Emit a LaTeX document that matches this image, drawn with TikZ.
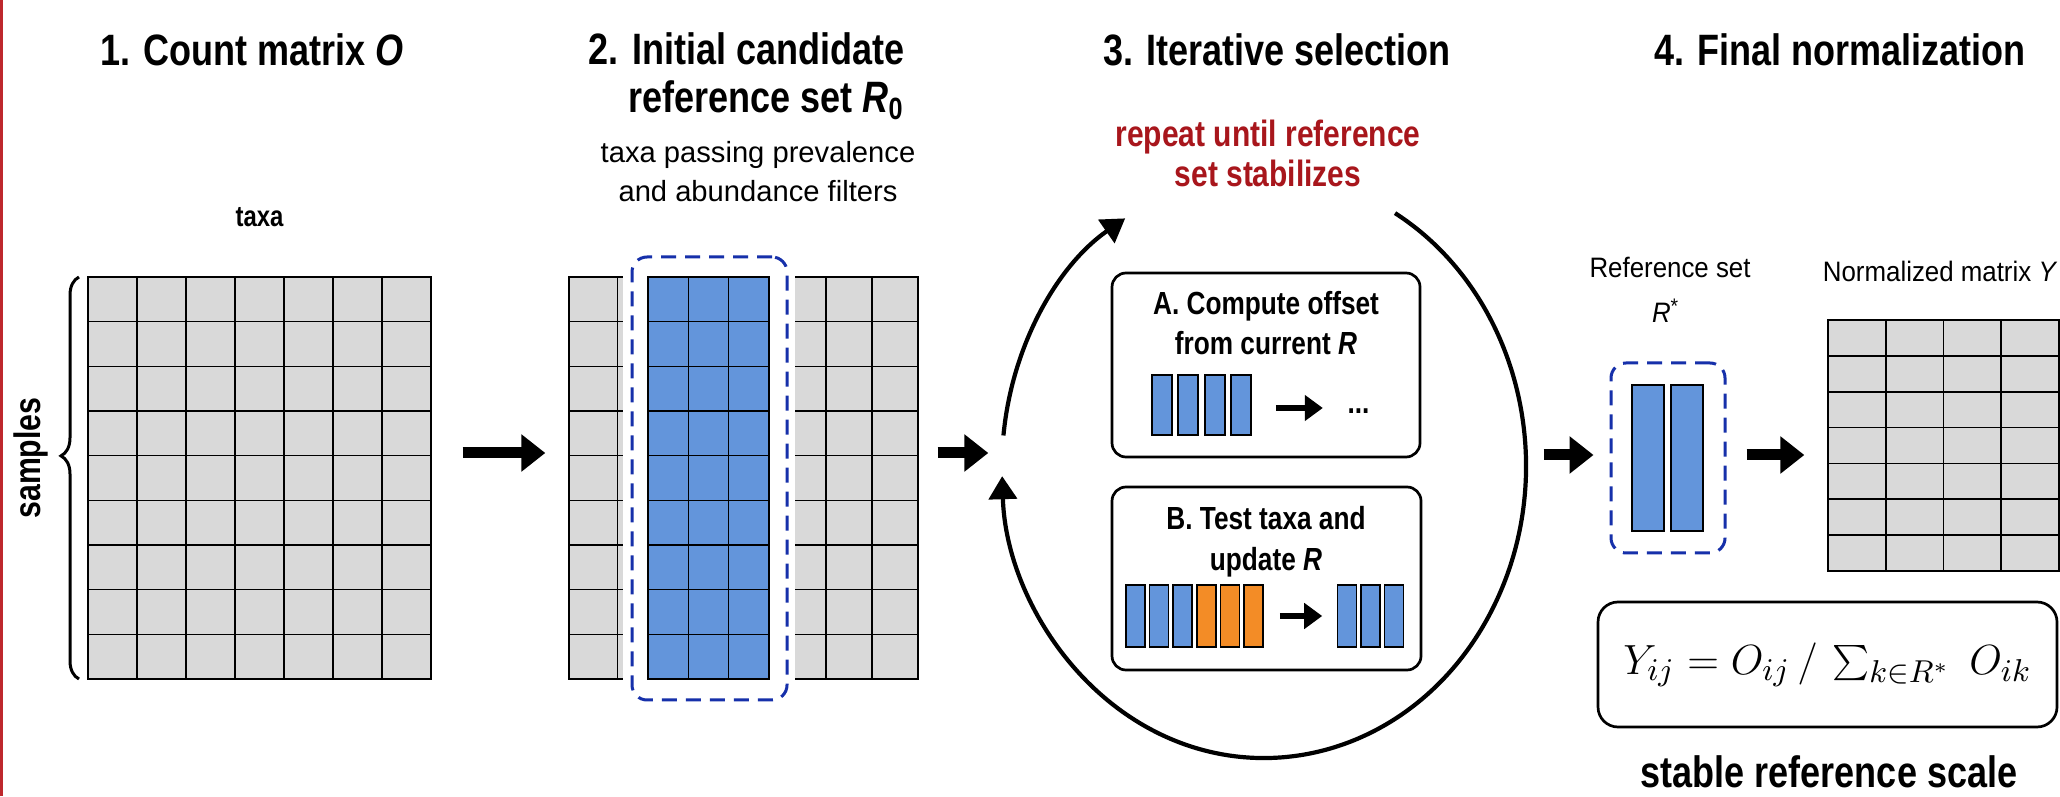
\documentclass[tikz,border=0pt]{standalone}
\usepackage{fontspec}
\setmainfont{Liberation Sans}
\newfontfamily\condfont{Liberation Sans}[FakeStretch=0.82]
\newfontfamily\narrowfont{Liberation Sans}[FakeStretch=0.92]
\usepackage{tikz}
\usetikzlibrary{arrows.meta,calc,positioning,shapes.geometric,decorations.pathreplacing}

\definecolor{cellgrey}{RGB}{217,217,217}
\definecolor{refblue}{RGB}{99,149,219}
\definecolor{droporange}{RGB}{243,140,38}
\definecolor{dashblue}{RGB}{22,48,170}
\definecolor{loopred}{RGB}{168,22,28}
\definecolor{edgered}{RGB}{190,40,45}

\tikzstyle{cell} = [draw, fill=cellgrey, line width=0.16mm]
\tikzstyle{refcell} = [draw, fill=refblue, line width=0.16mm]
\tikzstyle{gridline} = [line width=0.16mm]
\tikzstyle{bar} = [rectangle, draw, line width=0.16mm, inner sep=0pt, minimum width=2mm, minimum height=6mm]
\tikzstyle{stepbox} = [rectangle, draw, line width=0.27mm, rounded corners=1.4mm, inner sep=0pt]
\tikzstyle{refbox} = [rectangle, draw=dashblue, line width=0.3mm, dash pattern=on 1.5mm off 0.9mm, rounded corners=1.5mm, inner sep=0pt]
\tikzstyle{bigarrow} = [line width=1.1mm, -{Triangle[length=2.4mm, width=3.6mm]}]
\tikzstyle{smallarrow} = [line width=0.65mm, -{Triangle[length=1.8mm, width=2.5mm]}]
\tikzstyle{loopline} = [line width=0.42mm, -{Triangle[length=2.3mm, width=2.8mm]}]
\tikzstyle{samplebrace} = [line width=0.3mm, decorate, decoration={brace, amplitude=1.8mm, aspect=0.555}]
\tikzstyle{steptitle} = [font=\condfont\bfseries\fontsize{12.5}{13.7}\selectfont, inner sep=0pt]
\tikzstyle{subnote} = [font=\fontsize{8.3}{11.1}\selectfont, inner sep=0pt]
\tikzstyle{axislabel} = [font=\condfont\bfseries\fontsize{8.3}{10}\selectfont, inner sep=0pt]
\tikzstyle{samplelabel} = [font=\condfont\bfseries\fontsize{10.5}{12}\selectfont, inner sep=0pt]
\tikzstyle{looptext} = [font=\condfont\bfseries\fontsize{10.4}{11.4}\selectfont, text=loopred, inner sep=0pt]
\tikzstyle{boxtext} = [font=\condfont\bfseries\fontsize{9.1}{11.4}\selectfont, inner sep=0pt]
\tikzstyle{setlabel} = [font=\narrowfont\fontsize{8}{10}\selectfont, inner sep=0pt]

\begin{document}
\begin{tikzpicture}[x=0.1mm, y=0.1mm]
    \useasboundingbox (0,0) rectangle (2060,796);
    \fill[white] (0,0) rectangle (2060,796);
    \draw[edgered, line width=0.3mm] (1.5,0) -- (1.5,796);

    % column titles (multi-line nodes sit on the baseline of their last line)
    \node[steptitle, anchor=base] (title1) at (252,730) {1. Count matrix \textit{O}};
    \node[steptitle, anchor=base east, align=right] (title2) at (905,683) {2. Initial candidate\\reference set \textit{R}\textsubscript{0}};
    \node[subnote, anchor=base, align=center] (title2note) at (758,594) {taxa passing prevalence\\and abundance filters};
    \node[steptitle, anchor=base] (title3) at (1277,730) {3. Iterative selection};
    \node[steptitle, anchor=base] (title4) at (1840,730) {4. Final normalization};

    % 1. count matrix
    \node[inner sep=0pt, minimum width=34.3mm, minimum height=40.2mm] (mat1) at (259.5,318) {};
    \foreach \c in {0,...,6}
        \foreach \r in {0,...,8}
            \draw[cell] (88+49*\c,117+44.667*\r) rectangle ++(49,44.667);
    \node[axislabel] (taxa) [above=4.9mm of mat1] {taxa};
    \draw[samplebrace] (79,117) -- (79,519);
    \node[samplelabel, rotate=90] (samples) at (31,338) {samples};

    % 2. candidate set inside the matrix
    \node[inner sep=0pt, minimum width=34.9mm, minimum height=40.2mm] (mat2) at (743.5,318) {};
    \foreach \r in {0,...,8}
        \draw[cell] (569,117+44.667*\r) rectangle ++(49,44.667);
    \fill[cellgrey] (618,117) rectangle (623,519);
    \fill[cellgrey] (795,117) rectangle (826,519);
    \foreach \r in {0,...,9} {
        \draw[gridline] (618,117+44.667*\r) -- ++(5,0);
        \draw[gridline] (795,117+44.667*\r) -- ++(31,0);
    }
    \foreach \c in {0,1}
        \foreach \r in {0,...,8}
            \draw[cell] (826+46*\c,117+44.667*\r) rectangle ++(46,44.667);
    \foreach \c in {0,1,2}
        \foreach \r in {0,...,8}
            \draw[refcell] (648+40.33*\c,117+44.667*\r) rectangle ++(40.33,44.667);
    \node[refbox, minimum width=15.5mm, minimum height=44.3mm] (r0) at (709.5,317.5) {};

    % 3. iteration loop
    \node[ellipse, inner sep=0pt, minimum width=52.4mm, minimum height=58.4mm] (loop) at (1264,330) {};
    \node[looptext, anchor=base, align=center] (repeat) at (1268,609) {repeat until reference\\set stabilizes};
    \draw[loopline] ($(loop.center)+(174:262 and 292)$) arc[start angle=174, end angle=122, x radius=262, y radius=292];
    \draw[loopline] ($(loop.center)+(60:262 and 292)$) arc[start angle=60, end angle=-178, x radius=262, y radius=292];

    \node[stepbox, minimum width=30.8mm, minimum height=18.4mm] (boxa) at (1266,431) {};
    \node[boxtext, anchor=base, align=center] (boxatext) at (1266,441) {A. Compute offset\\from current \textit{R}};
    \foreach \i/\x in {1/1162,2/1188,3/1215,4/1241}
        \node[bar, fill=refblue] (a\i) at (\x,391) {};
    \node[boxtext, inner sep=0pt] (dotsa) [right=9.5mm of a4, yshift=-0.6mm] {...};
    \draw[smallarrow, shorten <=2.4mm, shorten >=2.4mm] ([yshift=-0.3mm]a4.east) -- ([yshift=-0.3mm]a4.east -| dotsa.west);

    \node[stepbox, minimum width=30.9mm, minimum height=18.3mm] (boxb) at (1266.5,217.5) {};
    \node[boxtext, anchor=base, align=center] (boxbtext) at (1266,226) {B. Test taxa and\\update \textit{R}};
    \foreach \i/\col in {1/refblue,2/refblue,3/refblue,4/droporange,5/droporange,6/droporange}
        \node[bar, fill=\col, minimum width=1.9mm, minimum height=6.2mm] (b\i) at ({1111.9+23.6*\i},180) {};
    \foreach \i in {1,2,3}
        \node[bar, fill=refblue, minimum width=1.9mm, minimum height=6.2mm] (k\i) at ({1323.5+23.5*\i},180) {};
    \draw[smallarrow, shorten <=1.6mm, shorten >=1.45mm] (b6.east) -- (k1.west);

    % 4. final set and normalized matrix
    \node[setlabel, anchor=base] (rsetlabel) at (1670,518) {Reference set};
    \node[setlabel, anchor=base] (rstarlabel) at (1666,473) {\textit{R}\textsuperscript{*}};
    \node[refbox, minimum width=11.4mm, minimum height=19mm] (rstar) at (1668,338) {};
    \node[bar, fill=refblue, minimum width=3.2mm, minimum height=14.6mm] (s1) at (1648,338) {};
    \node[bar, fill=refblue, minimum width=3.2mm, minimum height=14.6mm] (s2) at (1687,338) {};

    \node[inner sep=0pt, minimum width=23.1mm, minimum height=25.1mm] (matY) at (1943.5,350.5) {};
    \foreach \c in {0,...,3}
        \foreach \r in {0,...,6}
            \draw[cell] (1828+57.75*\c,225+35.857*\r) rectangle ++(57.75,35.857);
    \node[setlabel, anchor=base east] (matYlabel) at (2058,514) {Normalized matrix \textit{Y}};

    \node[stepbox, rounded corners=2mm, minimum width=45.9mm, minimum height=12.5mm, font=\fontsize{12.5}{14}\selectfont] (formula) at (1827.5,131.5)
        {$Y_{ij} = O_{ij} \,/\, \textstyle\sum_{k\in R^{*}}\; O_{ik}$};
    \node[steptitle, anchor=base] (scale) at (1829,9) {stable reference scale};

    % step connectors
    \draw[bigarrow, shorten <=3.1mm, shorten >=2.3mm] ([yshift=2.5mm]mat1.east) -- ([yshift=2.5mm]mat2.west);
    \draw[bigarrow, shorten <=1.9mm, shorten >=1.3mm] ([yshift=2.5mm]mat2.east) -- ([yshift=2.5mm]mat2.east -| loop.west);
    \draw[bigarrow, shorten <=1.7mm, shorten >=1.6mm] ([yshift=1.1mm]loop.east) -- ([yshift=1.1mm]loop.east -| rstar.west);
    \draw[bigarrow, shorten <=2.0mm, shorten >=2.3mm] ([yshift=0.3mm]rstar.east) -- ([yshift=0.3mm]rstar.east -| matY.west);
\end{tikzpicture}
\end{document}
